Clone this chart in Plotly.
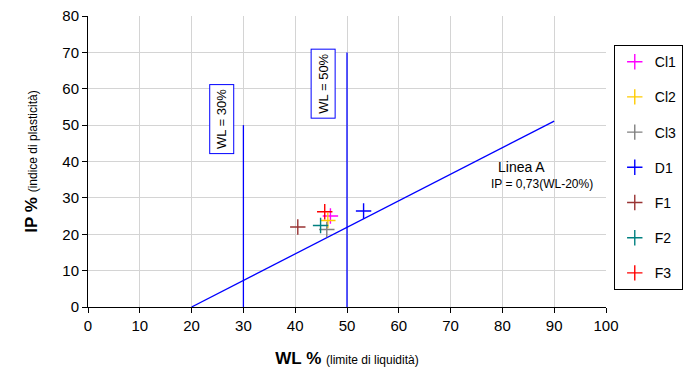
import plotly.graph_objects as go

# Campioni: limite di liquidità (WL) e indice di plasticità (IP)
samples = ["Cl1", "Cl2", "Cl3", "D1", "F1", "F2", "F3"]
wl_values = [46.8, 46.3, 46.1, 53.2, 40.5, 44.9, 45.7]
ip_values = [25.0, 23.8, 21.3, 26.4, 22.0, 22.4, 26.2]
colors = ["#ff00ff", "#ffcc00", "#808080", "#0000ff", "#993333", "#008080", "#ff0000"]

# Linea A: IP = 0,73 (WL - 20)
a_line_wl = [20, 90]
a_line_ip = [0.73 * (w - 20) for w in a_line_wl]

# Limiti verticali WL = 30% e WL = 50%
wl30_x = [30, 30]
wl30_y = [0, 50]
wl50_x = [50, 50]
wl50_y = [0, 70]

x_ticks = list(range(0, 101, 10))
y_ticks = list(range(0, 81, 10))

fig = go.Figure()

for xs, ys in [(a_line_wl, a_line_ip), (wl30_x, wl30_y), (wl50_x, wl50_y)]:
    fig.add_trace(go.Scatter(x=xs, y=ys, mode="lines",
                             line=dict(color="#0000ff", width=1.3),
                             showlegend=False, hoverinfo="skip"))

for name, x, y, c in zip(samples, wl_values, ip_values, colors):
    fig.add_trace(go.Scatter(
        x=[x], y=[y], mode="markers", name=name, legendgroup=name,
        marker=dict(symbol="cross-thin", size=11, line=dict(color=c, width=1.4)),
    ))

fig.add_annotation(x=25.9, y=51.7, text="WL = 30%", textangle=-90, showarrow=False,
                   font=dict(size=13, color="black"), bordercolor="#0000ff",
                   borderwidth=1, borderpad=4, bgcolor="white")
fig.add_annotation(x=45.3, y=61.3, text="WL = 50%", textangle=-90, showarrow=False,
                   font=dict(size=13, color="black"), bordercolor="#0000ff",
                   borderwidth=1, borderpad=4, bgcolor="white")
fig.add_annotation(x=83.6, y=38.6, text="Linea A", showarrow=False,
                   font=dict(size=14, color="black"))
fig.add_annotation(x=87.6, y=33.8, text="IP = 0,73(WL-20%)", showarrow=False,
                   font=dict(size=12, color="black"))

axis_common = dict(
    showgrid=True, gridcolor="#d4d4d4", gridwidth=1,
    showline=True, linecolor="black", linewidth=1,
    ticks="outside", ticklen=5, tickcolor="black",
    zeroline=False, tickfont=dict(size=15, color="black"),
)

fig.update_xaxes(range=[0, 100], tickvals=x_ticks, **axis_common,
                 title=dict(text="<b>WL %</b> <span style='font-size:12px'>(limite di liquidità)</span>",
                            font=dict(size=17, color="black"), standoff=19))
fig.update_yaxes(range=[0, 80], tickvals=y_ticks, **axis_common,
                 title=dict(text="<b>IP %</b> <span style='font-size:12px'>(indice di plasticità)</span>",
                            font=dict(size=17, color="black"), standoff=20))

fig.update_layout(
    width=692, height=376,
    margin=dict(l=88, r=86, t=16, b=69, autoexpand=False),
    plot_bgcolor="white", paper_bgcolor="white",
    font=dict(family="Liberation Sans, Arial, sans-serif", color="black"),
    legend=dict(x=1.015, y=0.9, xanchor="left", yanchor="top",
                bordercolor="black", borderwidth=1, bgcolor="white",
                font=dict(size=14), tracegroupgap=14, itemwidth=30),
)

fig.write_html("out.html")
